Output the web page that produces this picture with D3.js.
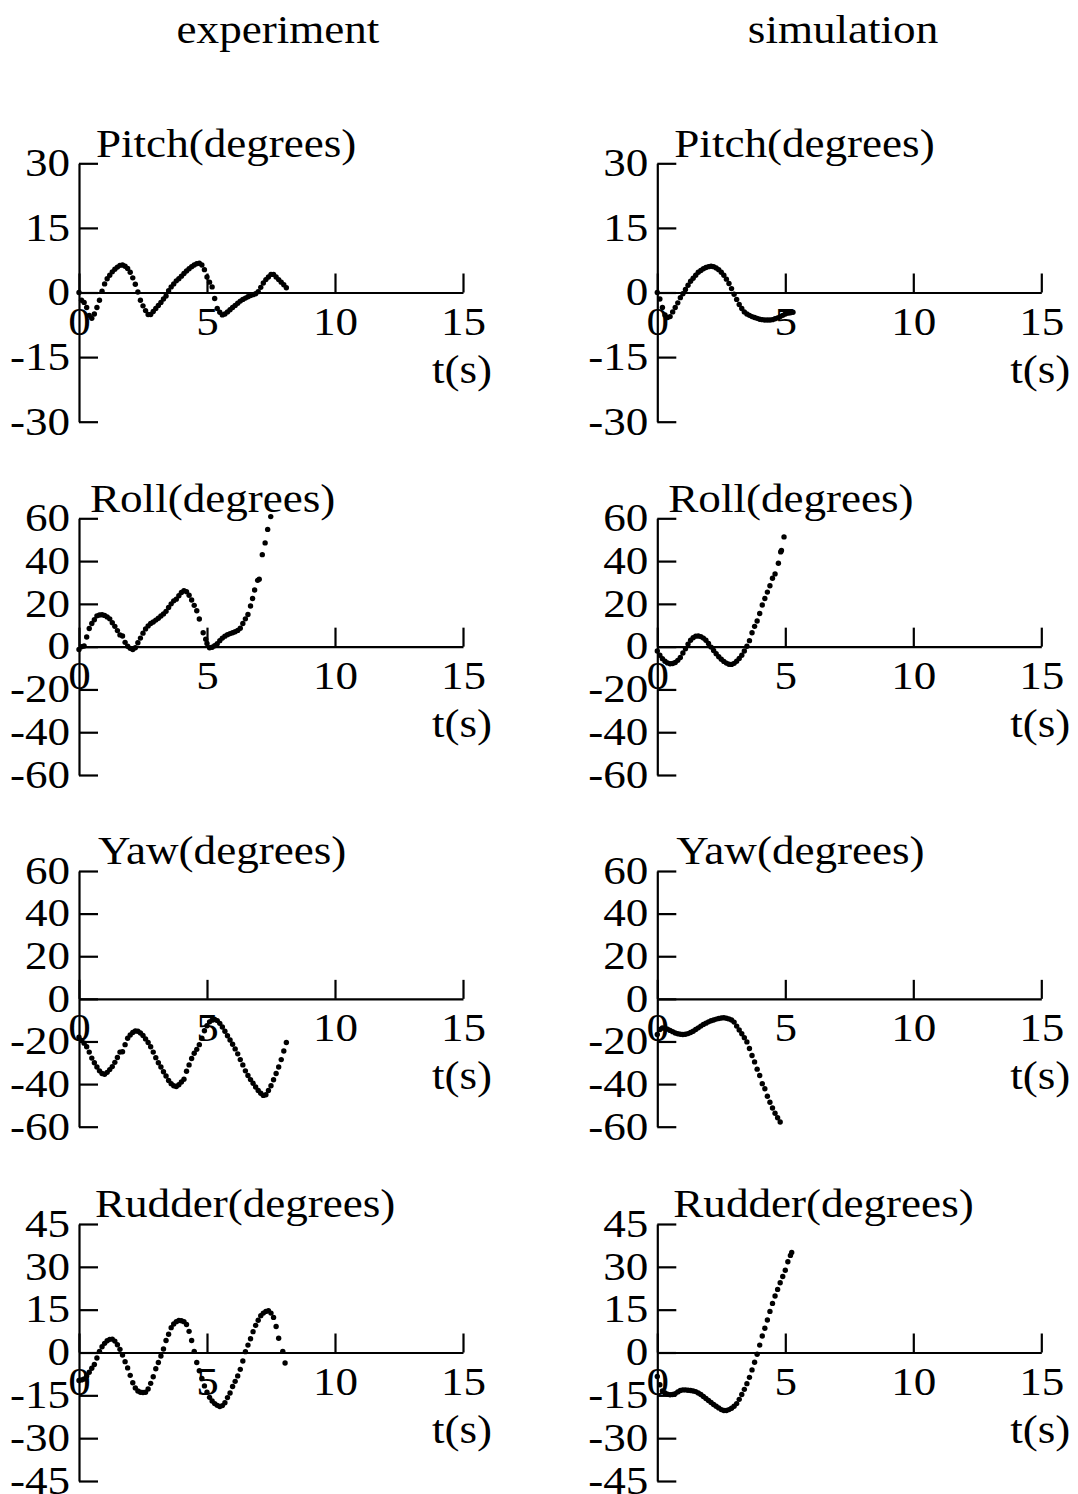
<!DOCTYPE html>
<html>
<head>
<meta charset="utf-8">
<script src="https://cdn.jsdelivr.net/npm/d3@7"></script>
<style>
  html, body { margin: 0; padding: 0; background: #fff; }
  svg { display: block; }
  text { font-family: "Liberation Serif", "Times New Roman", Times, serif; fill: #000; }
</style>
</head>
<body>
<svg id="chart" width="1078" height="1494"></svg>
<script>
// ---- data: [time (s), angle (degrees)] ----
const columnTitles = ["experiment", "simulation"];
const panelTitles = ["Pitch(degrees)", "Roll(degrees)", "Yaw(degrees)", "Rudder(degrees)"];
const xTicks = [0, 5, 10, 15];
const pitchTicks = [-30, -15, 0, 15, 30];
const rollTicks = [-60, -40, -20, 0, 20, 40, 60];
const yawTicks = [-60, -40, -20, 0, 20, 40, 60];
const rudderTicks = [-45, -30, -15, 0, 15, 30, 45];

const pitchExp = [[0,0],[0.1,-1.8],[0.2,-2.3],[0.3,-3.5],[0.4,-5.3],[0.5,-6],[0.6,-5],[0.7,-3.5],[0.8,-1.8],[0.9,0.3],
  [1.0,2],[1.1,3.2],[1.2,4],[1.3,4.8],[1.4,5.4],[1.5,5.9],[1.6,6.3],[1.7,6.4],[1.8,6.1],[1.9,5.6],
  [2.0,4.7],[2.1,3.4],[2.2,1.9],[2.3,0.1],[2.4,-1.8],[2.5,-3.1],[2.6,-4.2],[2.7,-5.1],[2.8,-5.1],[2.9,-4.4],
  [3.0,-3.7],[3.1,-3.0],[3.2,-2.3],[3.3,-1.5],[3.4,-0.8],[3.5,0.4],[3.6,1.3],[3.7,2.0],[3.8,2.7],[3.9,3.2],
  [4.0,3.8],[4.1,4.4],[4.2,5.0],[4.3,5.5],[4.4,6.0],[4.5,6.4],[4.6,6.7],[4.7,6.8],[4.8,6.4],[4.9,5.3],
  [5.0,3.6],[5.1,2.4],[5.2,1.3],[5.3,-1.4],[5.4,-3.7],[5.5,-4.6],[5.6,-5.2],[5.7,-5.0],[5.8,-4.5],[5.9,-4.0],
  [6.0,-3.5],[6.1,-3.0],[6.2,-2.5],[6.3,-2.0],[6.4,-1.6],[6.5,-1.3],[6.6,-1.0],[6.7,-0.7],[6.8,-0.5],[6.9,-0.3],
  [7.0,0.2],[7.1,1.2],[7.2,2.2],[7.3,3.0],[7.4,3.6],[7.5,4.2],[7.6,4.2],[7.7,3.6],[7.8,3.0],[7.9,2.4],
  [8.0,1.8],[8.1,1.1]];

const pitchSim = [[0,0],[0.1,-1.5],[0.2,-3.5],[0.3,-5.2],[0.4,-5.8],[0.5,-5.6],[0.6,-4.5],[0.7,-3.5],[0.8,-2.4],[0.9,-1.2],
  [1.0,-0.3],[1.1,0.7],[1.2,1.7],[1.3,2.6],[1.4,3.3],[1.5,4.0],[1.6,4.7],[1.7,5.1],[1.8,5.5],[1.9,5.8],
  [2.0,6.0],[2.1,6.1],[2.2,6.0],[2.3,5.7],[2.4,5.3],[2.5,4.7],[2.6,4.0],[2.7,3.1],[2.8,2.1],[2.9,0.9],
  [3.0,-0.4],[3.1,-1.6],[3.2,-2.8],[3.3,-3.7],[3.4,-4.5],[3.5,-5.0],[3.6,-5.3],[3.7,-5.6],[3.8,-5.8],[3.9,-6.0],
  [4.0,-6.2],[4.1,-6.3],[4.2,-6.4],[4.3,-6.4],[4.4,-6.4],[4.5,-6.3],[4.6,-6.1],[4.7,-5.9],[4.8,-5.6],[4.9,-5.3],
  [5.0,-5.0],[5.1,-4.8],[5.2,-4.7],[5.3,-4.6]];

const rollExp = [[0,-1.3],[0.1,0],[0.2,0.3],[0.3,4.5],[0.4,8.5],[0.5,10.8],[0.6,12.6],[0.7,14.4],[0.8,14.8],[0.9,14.9],
  [1.0,14.6],[1.1,13.9],[1.2,13.0],[1.3,11.2],[1.4,9.5],[1.5,7.5],[1.6,5.5],[1.7,5.0],[1.8,2.0],[1.9,0.2],
  [2.0,-0.8],[2.1,-1.3],[2.2,-0.5],[2.3,1.8],[2.4,4.0],[2.5,6.3],[2.6,8.3],[2.7,9.7],[2.8,10.8],[2.9,11.5],
  [3.0,12.4],[3.1,13.3],[3.2,14.3],[3.3,15.3],[3.4,16.5],[3.5,18.3],[3.6,20.0],[3.7,21.4],[3.8,22.2],[3.9,23.8],
  [4.0,25.3],[4.1,26.2],[4.2,25.7],[4.3,24.0],[4.4,21.8],[4.5,19.3],[4.6,16.8],[4.7,12.9],[4.85,6.5],[4.95,3.5],
  [5.0,1.5],[5.1,-0.5],[5.2,-0.3],[5.3,0.4],[5.4,1.4],[5.5,2.8],[5.6,4.0],[5.7,4.9],[5.8,5.6],[5.9,6.1],
  [6.0,6.5],[6.1,7.0],[6.2,7.6],[6.3,8.6],[6.4,10.8],[6.5,13.0],[6.6,15.0],[6.7,19.0],[6.78,22.5],[6.86,26.5],
  [6.98,31.0],[7.04,31.5],[7.16,43.0],[7.27,48.5],[7.37,54.8],[7.49,60.8]];

const rollSim = [[0,-2.0],[0.1,-4.0],[0.2,-5.6],[0.3,-6.8],[0.4,-7.6],[0.5,-8.0],[0.6,-7.9],[0.7,-7.4],[0.8,-6.4],[0.9,-5.1],
  [1.0,-3.0],[1.1,-1.0],[1.2,1.2],[1.3,3.0],[1.4,4.2],[1.5,4.9],[1.6,5.0],[1.7,4.7],[1.8,4.0],[1.9,3.0],
  [2.0,1.5],[2.1,-0.2],[2.2,-1.8],[2.3,-3.3],[2.4,-4.7],[2.5,-5.9],[2.6,-6.9],[2.7,-7.7],[2.8,-8.2],[2.9,-8.3],
  [3.0,-7.8],[3.1,-6.8],[3.2,-5.5],[3.3,-4.0],[3.4,-2.0],[3.5,0.2],[3.6,2.8],[3.7,6.5],[3.8,9.5],[3.9,12.0],
  [4.0,15.5],[4.1,19.5],[4.2,22.5],[4.3,25.5],[4.4,28.5],[4.5,32.0],[4.6,34.0],[4.73,39.0],[4.82,44.3],[4.85,45.0],
  [4.95,51.3]];

const yawExp = [[0,-18],[0.1,-19.5],[0.2,-20.8],[0.3,-22.5],[0.4,-25],[0.5,-27.8],[0.6,-30],[0.7,-32],[0.8,-33.8],[0.9,-35],
  [1.0,-35.4],[1.1,-34.5],[1.2,-33.2],[1.3,-31.8],[1.4,-29.8],[1.5,-27.5],[1.6,-25],[1.7,-24.8],[1.8,-21.5],[1.9,-18.5],
  [2.0,-17],[2.1,-15.8],[2.2,-15.1],[2.3,-15.2],[2.4,-16],[2.5,-17.2],[2.6,-18.8],[2.7,-20.5],[2.8,-22.5],[2.9,-25],
  [3.0,-27.6],[3.1,-30],[3.2,-32],[3.3,-34.2],[3.4,-36.2],[3.5,-38.3],[3.6,-39.8],[3.7,-40.8],[3.8,-41.1],[3.9,-40.3],
  [4.0,-39],[4.1,-37.7],[4.2,-34],[4.3,-31],[4.4,-28],[4.5,-25.5],[4.6,-23.7],[4.7,-21.5],[4.8,-18.5],[4.9,-15],
  [5.0,-12.6],[5.1,-10.8],[5.2,-10],[5.3,-9.7],[5.4,-10.2],[5.5,-11.5],[5.6,-13.2],[5.7,-15.2],[5.8,-17.3],[5.9,-19.3],
  [6.0,-21.3],[6.1,-23.5],[6.2,-25.8],[6.3,-28.5],[6.4,-31],[6.5,-33.8],[6.6,-36],[6.7,-37.9],[6.8,-39.6],[6.9,-41.4],
  [7.0,-43],[7.1,-44.3],[7.2,-45.3],[7.3,-45],[7.4,-43],[7.5,-40.8],[7.6,-38],[7.7,-35],[7.8,-32],[7.9,-28.5],
  [8.0,-24.5],[8.1,-20.5]];

const yawSim = [[0,-16.7],[0.1,-14.4],[0.2,-13.7],[0.3,-13.8],[0.4,-14.2],[0.5,-14.8],[0.6,-15.4],[0.7,-16],[0.8,-16.4],[0.9,-16.6],
  [1.0,-16.7],[1.1,-16.6],[1.2,-16.3],[1.3,-15.8],[1.4,-15.2],[1.5,-14.4],[1.6,-13.6],[1.7,-12.8],[1.8,-12],[1.9,-11.4],
  [2.0,-10.8],[2.1,-10.3],[2.2,-9.9],[2.3,-9.5],[2.4,-9.2],[2.5,-9],[2.6,-8.9],[2.7,-9.1],[2.8,-9.4],[2.9,-9.9],
  [3.0,-10.9],[3.1,-12.8],[3.2,-14.6],[3.3,-16.4],[3.4,-18.2],[3.5,-20.2],[3.6,-23.3],[3.7,-26.6],[3.8,-29.6],[3.9,-33],
  [4.0,-36],[4.1,-39.8],[4.2,-42.2],[4.3,-45.7],[4.4,-48.5],[4.5,-51.2],[4.6,-53.7],[4.7,-55.8],[4.8,-57.8]];

const rudderExp = [[0,-9.8],[0.1,-9.6],[0.2,-9.3],[0.3,-8.2],[0.4,-6.9],[0.5,-5.5],[0.6,-4.2],[0.7,-1.9],[0.8,0.4],[0.9,2],
  [1.0,3.2],[1.1,4.1],[1.2,4.6],[1.3,4.7],[1.4,4.0],[1.5,2.7],[1.6,1.1],[1.7,-0.9],[1.8,-3.2],[1.9,-5.4],
  [2.0,-8.0],[2.1,-10.6],[2.2,-12.4],[2.3,-13.5],[2.4,-13.9],[2.5,-14.0],[2.6,-13.9],[2.7,-12.8],[2.8,-10.8],[2.9,-8.5],
  [3.0,-5.7],[3.1,-3.5],[3.2,-1.2],[3.3,1.2],[3.4,4.2],[3.5,6.4],[3.6,8.7],[3.7,10.0],[3.8,10.8],[3.9,11.2],
  [4.0,11.1],[4.1,10.8],[4.2,9.8],[4.3,7.4],[4.4,4.2],[4.5,0.4],[4.6,-3.5],[4.7,-6.4],[4.8,-9.1],[4.9,-11.7],
  [5.0,-13.9],[5.1,-15.7],[5.2,-17.0],[5.3,-17.9],[5.4,-18.5],[5.5,-18.9],[5.6,-18.6],[5.7,-17.6],[5.8,-15.8],[5.9,-14.2],
  [6.0,-11.9],[6.1,-10.1],[6.2,-8.2],[6.3,-5.9],[6.4,-3.0],[6.5,0.3],[6.6,2.6],[6.7,4.8],[6.8,7.3],[6.9,9.5],
  [7.0,11.3],[7.1,12.9],[7.2,13.8],[7.3,14.4],[7.4,14.6],[7.5,13.8],[7.6,12.3],[7.7,9.1],[7.8,5.0],[7.96,0.4],
  [8.05,-3.7]];

const rudderSim = [[0,-8.4],[0.1,-11.3],[0.2,-13.5],[0.3,-14.2],[0.4,-14.6],[0.5,-14.8],[0.6,-14.7],[0.7,-14.4],[0.8,-13.8],[0.9,-13.3],
  [1.0,-13.1],[1.1,-13.1],[1.2,-13.2],[1.3,-13.3],[1.4,-13.5],[1.5,-13.7],[1.6,-14.2],[1.7,-14.7],[1.8,-15.4],[1.9,-16.1],
  [2.0,-16.8],[2.1,-17.5],[2.2,-18.2],[2.3,-18.8],[2.4,-19.4],[2.5,-20.0],[2.6,-20.3],[2.7,-20.3],[2.8,-20.0],[2.9,-19.5],
  [3.0,-18.8],[3.1,-17.9],[3.2,-16.4],[3.3,-14.7],[3.4,-12.9],[3.5,-10.9],[3.6,-8.7],[3.7,-6.1],[3.8,-3.4],[3.9,-0.6],
  [4.0,2.6],[4.1,5.8],[4.2,8.5],[4.3,11.4],[4.4,14.4],[4.5,17.2],[4.6,19.8],[4.7,22.1],[4.8,24.4],[4.9,26.6],
  [5.0,28.8],[5.1,31.8],[5.2,34.0],[5.25,35.0]];

// ---- layout ----
const FONT = 41;          // px
const SX = 1.1;           // horizontal text stretch
const colX = [79, 657.3]; // y-axis position of each column
const plotW = 384;
const rows = [
  { top: 163.3, bottom: 421.7, ticks: pitchTicks, title: panelTitles[0], titleDx: 17, series: [pitchExp, pitchSim] },
  { top: 518.3, bottom: 775.0, ticks: rollTicks, title: panelTitles[1], titleDx: 11, series: [rollExp, rollSim] },
  { top: 871.0, bottom: 1126.7, ticks: yawTicks, title: panelTitles[2], titleDx: 19, series: [yawExp, yawSim] },
  { top: 1224.0, bottom: 1481.0, ticks: rudderTicks, title: panelTitles[3], titleDx: 16, series: [rudderExp, rudderSim] }
];

const svg = d3.select("#chart");

function label(g, x, y, str, anchor) {
  return g.append("text")
    .attr("transform", `translate(${x},${y}) scale(${SX},1)`)
    .attr("text-anchor", anchor)
    .style("font-size", FONT + "px")
    .text(str);
}

// column headings
label(svg, 278, 43, columnTitles[0], "middle");
label(svg, 843, 43, columnTitles[1], "middle");

rows.forEach(row => {
  colX.forEach((x0, c) => {
    const ticks = row.ticks;
    const x = d3.scaleLinear().domain([0, 15]).range([x0, x0 + plotW]);
    const y = d3.scaleLinear().domain([ticks[0], ticks[ticks.length - 1]]).range([row.bottom, row.top]);
    const g = svg.append("g");

    // vertical axis: ticks point inward, labels outside
    const yAxis = g.append("g")
      .attr("transform", `translate(${x0},0)`)
      .call(d3.axisLeft(y).tickValues(ticks).tickSizeInner(-19).tickSizeOuter(0).tickPadding(8.2).tickFormat(d3.format("d")));

    // horizontal axis through zero: ticks point up, labels below
    const xAxis = g.append("g")
      .attr("transform", `translate(0,${y(0)})`)
      .call(d3.axisBottom(x).tickValues(xTicks).tickSizeInner(-19).tickSizeOuter(0).tickPadding(13).tickFormat(d3.format("d")));

    [yAxis, xAxis].forEach(ax => {
      ax.selectAll("path.domain").attr("stroke", "#000").attr("stroke-width", 2.2);
      ax.selectAll(".tick line").attr("stroke", "#000").attr("stroke-width", 2.2);
      ax.selectAll(".tick text")
        .attr("fill", "#000")
        .style("font-size", FONT + "px")
        .style("font-family", '"Liberation Serif", "Times New Roman", serif')
        .attr("transform", `scale(${SX},1)`);
      ax.attr("font-size", null).attr("font-family", null);
    });
    yAxis.selectAll(".tick text")
      .attr("dy", "0.3em")
      .text(d => d < 0 ? "-" + Math.abs(d) : d);

    // panel title and time label
    label(g, x0 + row.titleDx, row.top - 6.6, row.title, "start");
    label(g, x0 + plotW + 29, y(0) + 90, "t(s)", "end");

    // sample points
    g.append("g").selectAll("circle")
      .data(row.series[c])
      .join("circle")
      .attr("cx", d => x(d[0]))
      .attr("cy", d => y(d[1]))
      .attr("r", 2.7)
      .attr("fill", "#000");
  });
});
</script>
</body>
</html>
